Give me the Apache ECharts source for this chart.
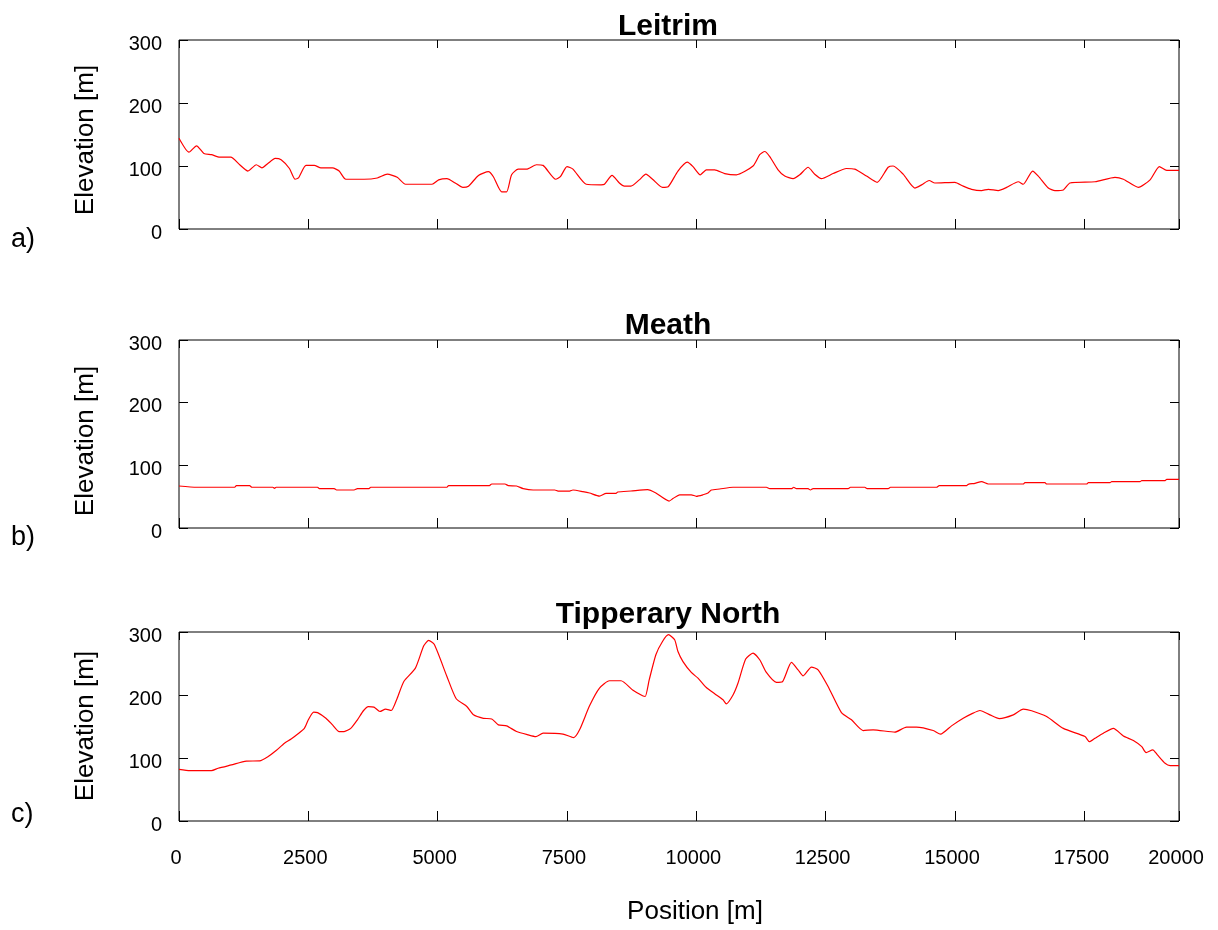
<!DOCTYPE html>
<html>
<head>
<meta charset="utf-8">
<script src="https://cdn.jsdelivr.net/npm/echarts@6/dist/echarts.min.js"></script>
<style>
  html, body { margin: 0; padding: 0; background: #fff; }
  #chart { width: 1218px; height: 930px; }
</style>
</head>
<body>
<div id="chart"></div>
<script>
// Elevation profiles along a 20 km transect for three counties.
const leitrimPos = [0,192,340,481,628,788,1000,1173,1333,1494,1603,1718,1859,1974,2135,2244,2308,2455,2615,2743,
  2968,3096,3224,3577,3833,4025,4218,4378,4891,5019,5179,5340,5487,5596,5788,5981,6077,6237,6333,6429,
  6557,6718,6910,7038,7282,7372,7500,7615,7872,8160,8224,8371,8512,8609,8737,8897,9025,9153,9346,9455,
  9645,9826,9936,10077,10193,10355,10548,10774,11096,11225,11322,11419,11580,11709,11870,11999,12160,12289,12418,12644,
  12902,13063,13289,13495,13708,13805,13998,14224,14353,14501,14611,14998,15159,15320,15514,15643,15836,15998,16223,16320,
  16500,16610,16804,16933,17094,17223,17707,18093,18255,18545,18771,18951,19093,19330];
const leitrimElev = [144,122,132,120,118,114,114,102,92,102,97,104,112,110,96,79,81,101,101,97,
  97,92,79,79,81,87,82,71,71,78,80,73,66,68,85,91,83,59,59,86,
  95,95,102,101,79,83,99,95,71,70,71,85,73,68,68,78,87,79,66,67,
  92,106,99,86,94,94,88,86,100,118,123,115,94,84,80,86,98,87,80,88,
  96,95,84,74,98,100,87,65,70,77,73,74,68,63,61,63,61,66,75,71,
  92,84,65,61,62,73,75,82,79,66,78,99,93,93];

const meathPos = [0,340,1077,1109,1365,1410,1814,1846,1878,2679,
  2711,3000,3045,3384,3449,3673,3705,5179,5211,6000,
  6045,6301,6365,6525,6654,6846,7263,7327,7551,7615,
  7807,7936,8128,8256,8448,8480,8737,9057,9218,9474,
  9549,9678,9903,10000,10129,10226,10290,10451,10709,11354,
  11419,11838,11883,11935,12160,12205,12257,12934,12979,13257,
  13302,13708,13753,14643,14695,15224,15256,15385,15514,15643,
  16320,16352,16739,16771,17545,17578,17997,18029,18577,18610,
  19061,19093,19330];
const meathElev = [67,65,65,67.6,67.6,65,65,63.3,65,65,
  62.8,62.8,60.6,60.6,62.8,62.8,65,65,67.6,67.6,
  70.2,70.2,67.6,67,62.8,60.6,60.6,59,59,60.6,
  58,55.8,51,55.3,55.3,57.4,59,61.2,55.8,43,
  47,53,53,50.6,53,55.8,60.6,62.2,65,65,
  62.8,62.8,65,62.8,62.8,60.6,62.8,62.8,65,65,
  62.8,62.8,65,65,67.6,67.6,69.7,71.3,74,70.2,
  70.2,72.4,72.4,70.2,70.2,72.4,72.4,74,74,75.6,
  75.6,77.7,77.7];

const tipperaryPos = [0,212,628,756,1013,1301,1558,1718,1878,2038,
  2167,2295,2423,2500,2602,2679,2840,2968,3096,3192,
  3320,3449,3564,3660,3769,3884,3993,4102,4218,4346,
  4570,4731,4827,4936,5179,5359,5564,5692,5884,6045,
  6173,6333,6525,6750,6897,7038,7423,7628,7743,7936,
  8128,8320,8545,8769,8961,9012,9089,9218,9346,9461,
  9581,9645,9742,9903,10032,10193,10355,10516,10580,10709,
  10806,10954,11096,11225,11354,11548,11664,11838,11967,12064,
  12225,12354,12547,12805,12999,13224,13418,13837,14063,14256,
  14579,14721,14933,15159,15320,15482,15675,15856,16127,16320,
  16481,16771,17094,17513,17597,17707,17868,18061,18255,18448,
  18610,18694,18823,18913,19061,19158,19330];
const tipperaryElev = [82,80,80,83.7,89,95,95.4,102,111.8,123.5,
  130,138,147,160.6,172.8,172,163,152.6,142,142,
  147,160.6,175,181.7,180.7,173.8,177.6,175.4,195,221.5,
  242.7,278,286.6,280,229.4,194,181.7,168.5,163,162,
  152.6,151,142,136.7,134,139.4,138,132.4,144.7,182.8,
  211,222.6,222.6,208,198.7,197.6,224,264,285,295.7,
  287.8,269,253,235.8,226.8,212,202,192.4,186,200,
  219,257,266.6,256,235.8,220,221,251.7,240,230.5,
  244.4,240,213.5,172,160.6,143.6,144.7,141,149,149,
  143.6,137.8,151,163,170,175.4,168.5,162.6,168.5,177.6,
  175,165.8,147,134,126,131.5,139.4,147,135,127.7,
  118,108.6,113,105,91.7,88,88];

const panelTitles = ['Leitrim', 'Meath', 'Tipperary North'];
const panelLetters = ['a)', 'b)', 'c)'];
const xTickLabels = ['0','2500','5000','7500','10000','12500','15000','17500','20000'];
const xMax = 19330;
const yMax = 300;

const FONT = '"Liberation Sans", Arial, Helvetica, sans-serif';
const profiles = [
  [leitrimPos, leitrimElev],
  [meathPos, meathElev],
  [tipperaryPos, tipperaryElev]
];

const grids = [
  { left: 179, width: 1000, top: 40, height: 189 },
  { left: 179, width: 1000, top: 340, height: 188 },
  { left: 179, width: 1000, top: 632, height: 189 }
].map(g => Object.assign(g, { show: true, borderColor: '#000', borderWidth: 1, backgroundColor: 'transparent' }));

const tickStyle = { color: '#000', width: 1 };
const xAxes = [];
const yAxes = [];
const series = [];
grids.forEach((g, i) => {
  const isLast = i === grids.length - 1;
  xAxes.push({
    type: 'value', gridIndex: i, position: 'bottom', min: 0, max: xMax, interval: 2500,
    axisLine: { show: false, onZero: false },
    axisTick: { show: true, inside: true, length: 10, lineStyle: tickStyle },
    axisLabel: {
      show: isLast, margin: 27, fontSize: 20, color: '#000', fontFamily: FONT,
      showMinLabel: true, showMaxLabel: true, padding: [0, 6, 0, 0],
      formatter: (v, idx) => xTickLabels[idx]
    },
    splitLine: { show: false }
  });
  xAxes.push({
    type: 'value', gridIndex: i, position: 'top', min: 0, max: xMax, interval: 2500,
    axisLine: { show: false, onZero: false },
    axisTick: { show: true, inside: true, length: 8, lineStyle: tickStyle },
    axisLabel: { show: false },
    splitLine: { show: false }
  });
  yAxes.push({
    type: 'value', gridIndex: i, position: 'left', min: 0, max: yMax, interval: 100,
    axisLine: { show: false, onZero: false },
    axisTick: { show: true, inside: true, length: 9, lineStyle: tickStyle },
    axisLabel: { margin: 17, fontSize: 20, color: '#000', fontFamily: FONT, verticalAlign: 'top', lineHeight: 8 },
    splitLine: { show: false }
  });
  yAxes.push({
    type: 'value', gridIndex: i, position: 'right', min: 0, max: yMax, interval: 100,
    axisLine: { show: false, onZero: false },
    axisTick: { show: true, inside: true, length: 9, lineStyle: tickStyle },
    axisLabel: { show: false },
    splitLine: { show: false }
  });
  const [pos, elev] = profiles[i];
  series.push({
    type: 'line', name: panelTitles[i], xAxisIndex: 2 * i, yAxisIndex: 2 * i,
    data: pos.map((x, k) => [x, elev[k]]),
    showSymbol: false, smooth: 0.2,
    lineStyle: { color: '#ff0000', width: 1.2 },
    z: 3
  });
});

const titleY = [27, 326, 615];
const elevLabelY = [140, 441, 726];
const letterY = [240, 538, 815];
const graphics = [];
panelTitles.forEach((t, i) => {
  graphics.push({
    type: 'text', x: 668, y: titleY[i],
    style: { text: t, font: 'bold 30px ' + FONT, fill: '#000', align: 'center', verticalAlign: 'middle', textAlign: 'center', textVerticalAlign: 'middle' }
  });
  graphics.push({
    type: 'text', x: 86, y: elevLabelY[i], rotation: Math.PI / 2,
    style: { text: 'Elevation [m]', font: '26px ' + FONT, fill: '#000', align: 'center', verticalAlign: 'middle', textAlign: 'center', textVerticalAlign: 'middle' }
  });
  graphics.push({
    type: 'text', x: 11, y: letterY[i],
    style: { text: panelLetters[i], font: '27px ' + FONT, fill: '#000', align: 'left', verticalAlign: 'middle', textAlign: 'left', textVerticalAlign: 'middle' }
  });
});
graphics.push({
  type: 'text', x: 695, y: 912,
  style: { text: 'Position [m]', font: '26px ' + FONT, fill: '#000', align: 'center', verticalAlign: 'middle', textAlign: 'center', textVerticalAlign: 'middle' }
});

const chart = echarts.init(document.getElementById('chart'), null, { renderer: 'canvas' });
chart.setOption({
  animation: false,
  backgroundColor: '#fff',
  grid: grids,
  xAxis: xAxes,
  yAxis: yAxes,
  series: series,
  graphic: graphics
});
</script>
</body>
</html>
